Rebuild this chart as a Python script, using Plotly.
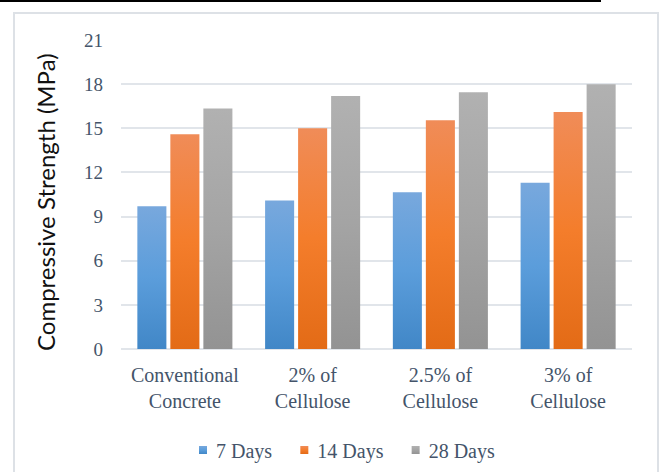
import plotly.graph_objects as go

# Compressive strength of concrete mixes (MPa)
categories = ["Conventional<br>Concrete", "2% of<br>Cellulose", "2.5% of<br>Cellulose", "3% of<br>Cellulose"]
series_names = ["7 Days", "14 Days", "28 Days"]
days_7 = [9.7, 10.1, 10.65, 11.3]
days_14 = [14.6, 15.0, 15.55, 16.1]
days_28 = [16.35, 17.2, 17.45, 18.0]
y_ticks = [0, 3, 6, 9, 12, 15, 18, 21]

base_colors = ["#5B9BD5", "#F47C2A", "#A5A5A5"]
# top / middle / bottom stops for the vertical bar gradients
gradients = [
    ["#78A8DD", "#5B9DDB", "#4187C7"],
    ["#F08C58", "#F47D2B", "#E36B16"],
    ["#B1B1B1", "#A4A4A4", "#939393"],
]

# canvas geometry (px)
W, H = 664, 472
PL, PR, PT, PB = 121, 632, 40, 349


def px_x(x):
    return (x - PL) / (PR - PL)


def px_y(y):
    return (PB - y) / (PB - PT)


tick_color = "#44546A"
serif = "Liberation Serif, Times New Roman, serif"

fig = go.Figure()
for name, vals, col in zip(series_names, [days_7, days_14, days_28], base_colors):
    fig.add_trace(go.Bar(x=categories, y=vals, name=name, marker=dict(color=col, line=dict(width=0))))

fig.update_layout(
    template="none",
    width=W,
    height=H,
    margin=dict(l=PL, r=W - PR, t=PT, b=H - PB, autoexpand=False),
    paper_bgcolor="white",
    plot_bgcolor="white",
    barmode="group",
    bargap=0.225,
    bargroupgap=0.12,
    showlegend=True,
    legend=dict(
        orientation="h",
        x=px_x(338),
        xanchor="center",
        y=px_y(450),
        yanchor="middle",
        font=dict(family=serif, size=20, color=tick_color),
        bgcolor="rgba(0,0,0,0)",
        itemclick=False,
    ),
    xaxis=dict(
        automargin=False,
        showgrid=False,
        showline=False,
        zeroline=False,
        ticks="",
        tickfont=dict(family=serif, size=20, color=tick_color),
        ticklabelstandoff=12,
        fixedrange=True,
    ),
    yaxis=dict(
        automargin=False,
        range=[0, 21],
        tickvals=y_ticks,
        ticktext=[str(v) for v in y_ticks],
        showgrid=True,
        gridcolor="#E1E5EA",
        gridwidth=2,
        zeroline=True,
        zerolinecolor="#E1E5EA",
        zerolinewidth=2,
        showline=False,
        ticks="",
        tickfont=dict(family=serif, size=19, color=tick_color),
        ticklabelstandoff=17,
        fixedrange=True,
    ),
    annotations=[
        dict(
            text="Compressive Strength (MPa)",
            xref="paper",
            yref="paper",
            x=px_x(45),
            y=px_y(202),
            xanchor="center",
            yanchor="middle",
            textangle=-90,
            showarrow=False,
            font=dict(family="Lato, Open Sans, sans-serif", size=24, color="#111111"),
        )
    ],
    shapes=[
        # chart-area frame
        dict(
            type="rect",
            xref="paper",
            yref="paper",
            x0=px_x(14),
            x1=px_x(658),
            y0=px_y(13),
            y1=px_y(490),
            line=dict(color="#DDE1E6", width=2),
            fillcolor="rgba(0,0,0,0)",
            layer="below",
        ),
        # rule across the top of the page
        dict(
            type="line",
            xref="paper",
            yref="paper",
            x0=px_x(0),
            x1=px_x(601),
            y0=px_y(1),
            y1=px_y(1),
            line=dict(color="black", width=2),
        ),
    ],
)

stops_js = "[" + ",".join("[" + ",".join('"%s"' % c for c in g) + "]" for g in gradients) + "]"

post = """
(function(){
  var gd = document.getElementById('{plot_id}');
  var stops = %s;
  var ns = 'http://www.w3.org/2000/svg';
  function apply(){
    var svg = gd.querySelector('.main-svg');
    var defs = svg.querySelector('defs');
    if (!defs) { defs = document.createElementNS(ns, 'defs'); svg.insertBefore(defs, svg.firstChild); }
    stops.forEach(function(s, i){
      var id = 'bargrad' + i;
      if (document.getElementById(id)) return;
      var lg = document.createElementNS(ns, 'linearGradient');
      lg.setAttribute('id', id);
      lg.setAttribute('x1', '0'); lg.setAttribute('y1', '0');
      lg.setAttribute('x2', '0'); lg.setAttribute('y2', '1');
      [0, 0.5, 1].forEach(function(off, k){
        var st = document.createElementNS(ns, 'stop');
        st.setAttribute('offset', off);
        st.setAttribute('stop-color', s[k]);
        lg.appendChild(st);
      });
      defs.appendChild(lg);
    });
    gd.querySelectorAll('.barlayer .trace').forEach(function(tr, i){
      tr.querySelectorAll('.point path').forEach(function(p){ p.style.fill = 'url(#bargrad' + i + ')'; });
    });
    gd.querySelectorAll('.legend .traces').forEach(function(t, i){
      var p = t.querySelector('.legendpoints path');
      if (p) {
        p.setAttribute('d', 'M4,4H-4V-4H4Z');
        p.setAttribute('transform', 'translate(27,0)');
        p.style.fill = 'url(#bargrad' + i + ')';
      }
    });
  }
  apply();
  gd.on('plotly_afterplot', apply);
})();
""" % stops_js

fig.write_html("out.html", post_script=post, config={"displayModeBar": False})
